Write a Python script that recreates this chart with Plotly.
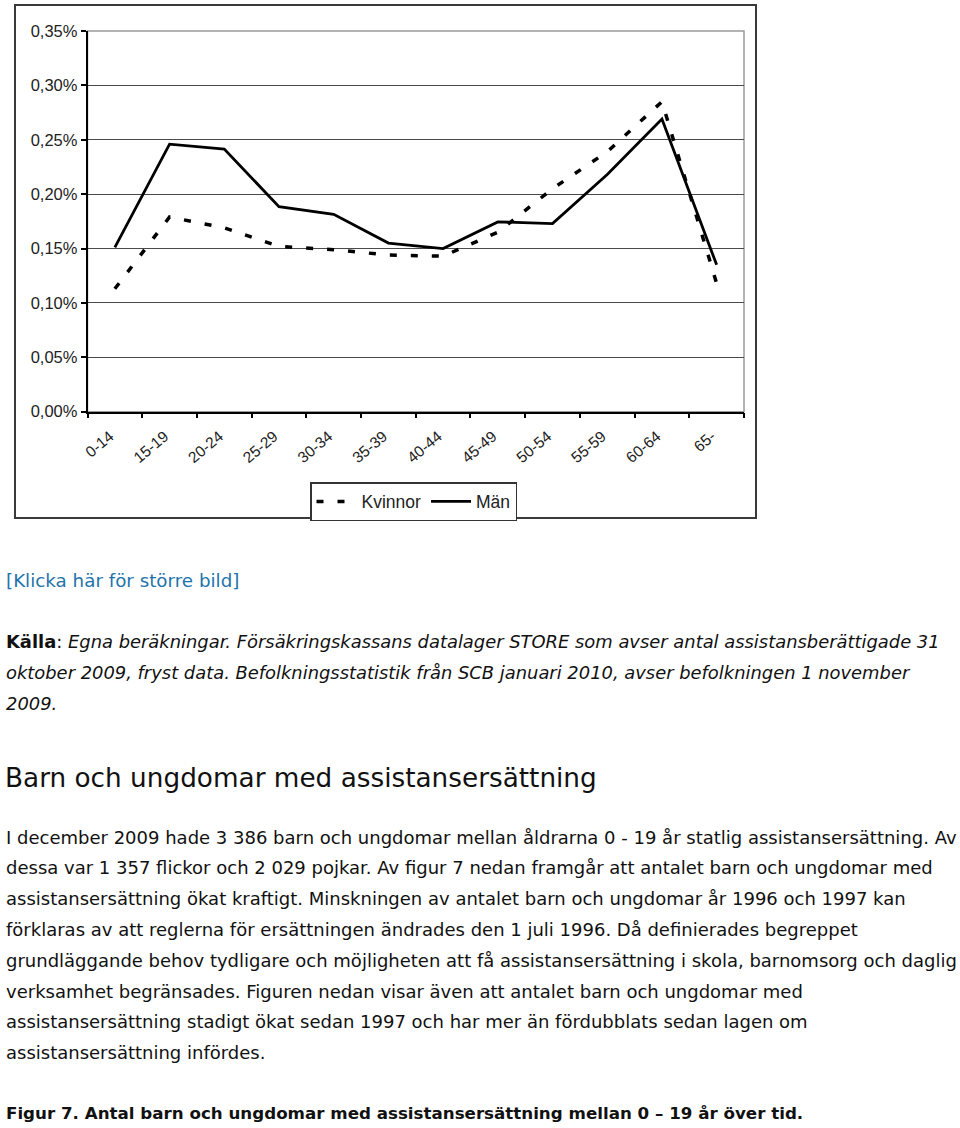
import plotly.graph_objects as go

# ---- data -------------------------------------------------------------
age_groups = ["0-14", "15-19", "20-24", "25-29", "30-34", "35-39",
              "40-44", "45-49", "50-54", "55-59", "60-64", "65-"]
kvinnor = [0.113, 0.179, 0.169, 0.152, 0.149, 0.144,
           0.143, 0.165, 0.205, 0.239, 0.285, 0.118]
man = [0.151, 0.246, 0.2415, 0.1885, 0.1815, 0.155,
       0.150, 0.1745, 0.173, 0.218, 0.269, 0.135]
y_tick_vals = [0.00, 0.05, 0.10, 0.15, 0.20, 0.25, 0.30, 0.35]
y_tick_text = ["0,00%", "0,05%", "0,10%", "0,15%", "0,20%", "0,25%", "0,30%", "0,35%"]

link_text = "[Klicka här för större bild]"
source_lines = [
    "<b>Källa</b>: <i>Egna beräkningar. Försäkringskassans datalager STORE som avser antal assistansberättigade 31</i>",
    "<i>oktober 2009, fryst data. Befolkningsstatistik från SCB januari 2010, avser befolkningen 1 november</i>",
    "<i>2009.</i>",
]
heading = "Barn och ungdomar med assistansersättning"
body_lines = [
    "I december 2009 hade 3 386 barn och ungdomar mellan åldrarna 0 - 19 år statlig assistansersättning. Av",
    "dessa var 1 357 flickor och 2 029 pojkar. Av figur 7 nedan framgår att antalet barn och ungdomar med",
    "assistansersättning ökat kraftigt. Minskningen av antalet barn och ungdomar år 1996 och 1997 kan",
    "förklaras av att reglerna för ersättningen ändrades den 1 juli 1996. Då definierades begreppet",
    "grundläggande behov tydligare och möjligheten att få assistansersättning i skola, barnomsorg och daglig",
    "verksamhet begränsades. Figuren nedan visar även att antalet barn och ungdomar med",
    "assistansersättning stadigt ökat sedan 1997 och har mer än fördubblats sedan lagen om",
    "assistansersättning infördes.",
]
figure_caption = "<b>Figur 7. Antal barn och ungdomar med assistansersättning mellan 0 – 19 år över tid.</b>"

# ---- layout helpers ---------------------------------------------------
W, H = 960, 1128


def fx(px):
    return px / W


def fy(py):
    return 1 - py / H


CHART_FONT = "Liberation Sans, Arial, sans-serif"
PAGE_FONT = "DejaVu Sans, Verdana, sans-serif"

fig = go.Figure()
fig.add_trace(go.Scatter(
    x=age_groups, y=kvinnor, name="Kvinnor", mode="lines",
    line=dict(color="black", width=3.5, dash="7px,14px"),
))
fig.add_trace(go.Scatter(
    x=age_groups, y=man, name="Män", mode="lines",
    line=dict(color="black", width=2.8),
))

annotations = []
annotations.append(dict(x=fx(4), y=fy(580), xref="paper", yref="paper",
                        text=link_text, showarrow=False, xanchor="left", yanchor="middle",
                        font=dict(family=PAGE_FONT, size=18.3, color="#1f74aa")))
for i, line in enumerate(source_lines):
    annotations.append(dict(x=fx(4), y=fy(641 + i * 31), xref="paper", yref="paper",
                            text=line, showarrow=False, xanchor="left", yanchor="middle",
                            font=dict(family=PAGE_FONT, size=17.9, color="#111")))
annotations.append(dict(x=fx(3), y=fy(778), xref="paper", yref="paper",
                        text=heading, showarrow=False, xanchor="left", yanchor="middle",
                        font=dict(family=PAGE_FONT, size=26.3, color="#111")))
for i, line in enumerate(body_lines):
    annotations.append(dict(x=fx(4), y=fy(837 + i * 30.8), xref="paper", yref="paper",
                            text=line, showarrow=False, xanchor="left", yanchor="middle",
                            font=dict(family=PAGE_FONT, size=18, color="#111")))
annotations.append(dict(x=fx(4), y=fy(1113), xref="paper", yref="paper",
                        text=figure_caption, showarrow=False, xanchor="left", yanchor="middle",
                        font=dict(family=PAGE_FONT, size=16.7, color="#111")))

shapes = [
    # outer chart frame
    dict(type="rect", xref="paper", yref="paper",
         x0=fx(15), x1=fx(756), y0=fy(518), y1=fy(5),
         line=dict(color="#3a3a3a", width=2), layer="below"),
    # plot-area frame
    dict(type="rect", xref="x domain", yref="y domain",
         x0=0, x1=1, y0=0, y1=1,
         line=dict(color="#9a9a9a", width=1.5), layer="below"),
]

fig.update_layout(
    width=W, height=H, autosize=False,
    margin=dict(l=0, r=0, t=0, b=0, pad=0),
    paper_bgcolor="white", plot_bgcolor="white",
    font=dict(family=CHART_FONT, color="#222"),
    xaxis=dict(
        domain=[fx(87.5), fx(744)],
        type="category", range=[-0.5, 11.5],
        tickson="boundaries", ticks="outside", ticklen=5, tickcolor="black", tickwidth=1.5,
        showline=True, linecolor="black", linewidth=1.5,
        showgrid=False, tickangle=-40, automargin=False,
        ticklabelstandoff=8, ticklabelshift=-5,
        tickfont=dict(family=CHART_FONT, size=15.5, color="#222"),
        fixedrange=True,
    ),
    yaxis=dict(
        domain=[fy(411.7), fy(31)],
        range=[0, 0.35],
        tickvals=y_tick_vals, ticktext=y_tick_text,
        ticks="outside", ticklen=5, tickcolor="black", tickwidth=1.5,
        showline=True, linecolor="black", linewidth=1.5,
        showgrid=True, gridcolor="#4a4a4a", gridwidth=1.2, zeroline=False,
        tickfont=dict(family=CHART_FONT, size=16.5, color="#222"),
        automargin=False, fixedrange=True,
    ),
    showlegend=True,
    legend=dict(
        orientation="h", x=fx(310), y=fy(482), xanchor="left", yanchor="top",
        bordercolor="#333", borderwidth=1.5, bgcolor="white",
        font=dict(family=CHART_FONT, size=17.5, color="#222"),
        itemwidth=40, tracegroupgap=0,
    ),
    annotations=annotations,
    shapes=shapes,
)

fig.write_html("out.html", config={"displayModeBar": False},
               post_script="document.body.style.margin='0px';")
